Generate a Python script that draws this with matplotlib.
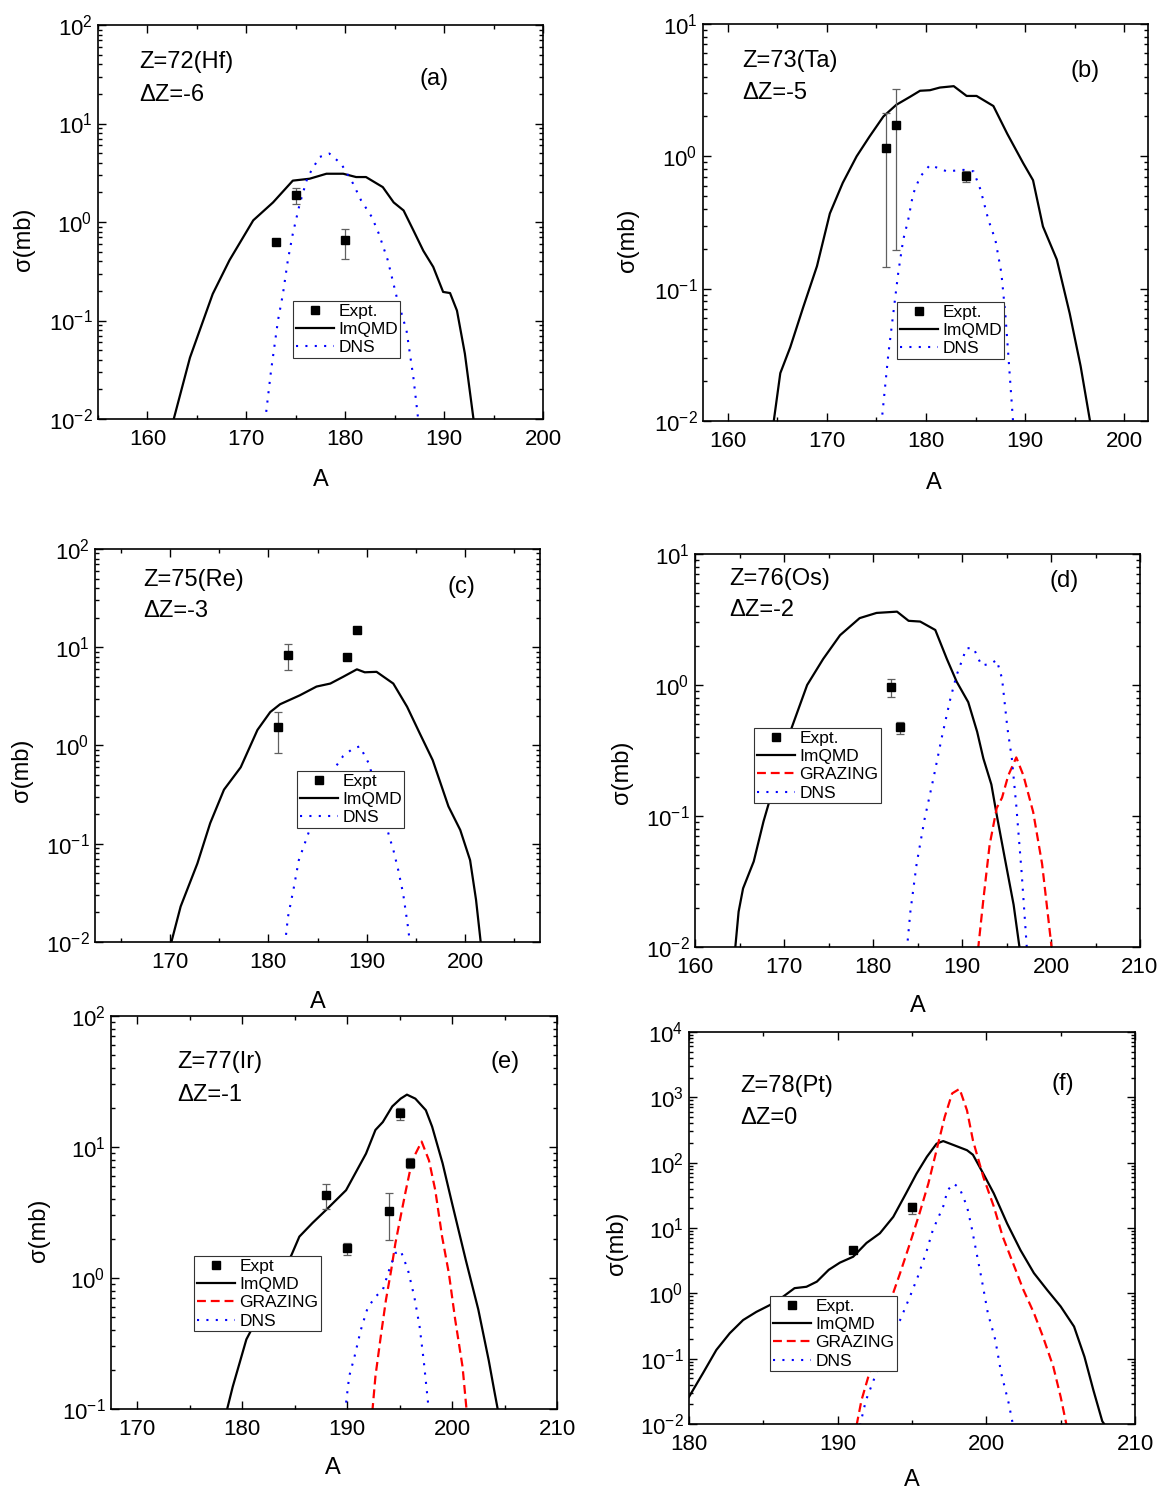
import numpy as np
import matplotlib
matplotlib.use("Agg")
import matplotlib.pyplot as plt
from matplotlib.ticker import LogLocator, MultipleLocator, NullFormatter, LogFormatterSciNotation

plt.rcParams["font.family"] = ["Liberation Sans", "DejaVu Sans"]
plt.rcParams["mathtext.fontset"] = "custom"
plt.rcParams["mathtext.rm"] = "Liberation Sans"
plt.rcParams["mathtext.it"] = "Liberation Sans:italic"
plt.rcParams["mathtext.bf"] = "Liberation Sans:bold"
plt.rcParams["axes.unicode_minus"] = False

W, H = 1163, 1495

# ---------------- data (A, sigma in mb) ----------------
# (a) Z=72 Hf
a_imqmd_x = [162.6, 164.3, 166.6, 168.3, 170.7, 172.7, 174.7, 176.4, 178.1, 179.8, 181.1, 182.1,
             183.8, 184.9, 185.9, 186.9, 187.9, 188.9, 189.9, 190.6, 191.3, 192.1, 193.0]
a_imqmd_y = [0.0095, 0.042, 0.186, 0.41, 1.04, 1.58, 2.63, 2.75, 3.09, 3.09, 2.86, 2.86,
             2.26, 1.58, 1.31, 0.82, 0.51, 0.35, 0.195, 0.19, 0.126, 0.046, 0.0095]
a_dns_x = [171.9, 172.5, 173.2, 173.7, 174.2, 174.7, 175.4, 176.2, 177.4, 178.4, 179.6, 180.8,
           181.6, 182.7, 183.4, 184.3, 185.2, 186.2, 186.9, 187.4]
a_dns_y = [0.0095, 0.031, 0.10, 0.186, 0.41, 0.76, 1.53, 2.86, 4.57, 4.95, 3.89, 2.45,
           1.66, 1.12, 0.76, 0.41, 0.174, 0.079, 0.026, 0.0095]
a_exp_x = [173, 175, 180]
a_exp_y = [0.625, 1.86, 0.65]
a_exp_lo = [0.625, 1.53, 0.42]
a_exp_hi = [0.625, 2.2, 0.855]

# (b) Z=73 Ta
b_imqmd_x = [164.6, 165.3, 166.3, 167.6, 169.0, 170.3, 171.6, 173.0, 174.3, 175.7, 177.0, 178.4,
             179.4, 180.4, 181.4, 182.8, 184.1, 185.1, 186.8, 188.2, 189.8, 190.8, 191.8, 193.2,
             194.5, 195.6, 196.6]
b_imqmd_y = [0.0095, 0.023, 0.036, 0.072, 0.148, 0.37, 0.63, 1.0, 1.41, 2.0, 2.45, 2.82,
             3.13, 3.16, 3.31, 3.39, 2.86, 2.86, 2.40, 1.48, 0.89, 0.66, 0.295, 0.166,
             0.065, 0.026, 0.0095]
b_dns_x = [175.5, 176.2, 176.7, 177.2, 177.7, 178.2, 178.7, 179.4, 180.4, 182.1, 183.8, 184.8,
           185.5, 186.3, 187.0, 187.6, 188.0, 188.3, 188.8]
b_dns_y = [0.0095, 0.032, 0.065, 0.132, 0.234, 0.33, 0.52, 0.70, 0.86, 0.77, 0.79, 0.77,
           0.56, 0.33, 0.234, 0.132, 0.065, 0.032, 0.0095]
b_exp_x = [176, 177, 184]
b_exp_y = [1.15, 1.73, 0.71]
b_exp_lo = [0.145, 0.195, 0.64]
b_exp_hi = [2.14, 3.2, 0.78]

# (c) Z=75 Re
c_imqmd_x = [170.1, 171.1, 172.8, 174.1, 175.5, 177.2, 178.9, 180.2, 181.2, 183.2, 184.9, 186.3,
             187.6, 189.0, 189.8, 191.0, 192.7, 194.1, 195.4, 196.7, 198.3, 199.5, 200.5, 201.1,
             201.6]
c_imqmd_y = [0.0095, 0.023, 0.063, 0.162, 0.355, 0.60, 1.44, 2.19, 2.63, 3.24, 3.98, 4.27,
             5.0, 5.96, 5.56, 5.62, 4.27, 2.48, 1.32, 0.71, 0.24, 0.138, 0.068, 0.027, 0.0095]
c_dns_x = [181.7, 182.0, 182.6, 183.1, 183.8, 184.3, 185.5, 186.6, 187.6, 188.6, 189.3, 190.2,
           191.3, 192.3, 192.7, 193.2, 193.7, 194.2, 194.4]
c_dns_y = [0.0095, 0.018, 0.036, 0.068, 0.107, 0.148, 0.30, 0.56, 0.78, 0.93, 0.98, 0.66,
           0.28, 0.117, 0.087, 0.054, 0.031, 0.014, 0.0095]
c_exp_x = [181, 182, 188, 189]
c_exp_y = [1.55, 8.3, 7.9, 15.0]
c_exp_lo = [0.84, 5.9, 7.9, 15.0]
c_exp_hi = [2.2, 10.7, 7.9, 15.0]

# (d) Z=76 Os
d_imqmd_x = [164.5, 164.9, 165.4, 166.6, 167.7, 169.2, 170.7, 172.6, 174.4, 176.3, 178.5, 180.4,
             182.7, 184.0, 185.3, 187.0, 188.3, 189.4, 190.7, 191.7, 192.4, 193.3, 193.9, 194.8,
             195.8, 196.5]
d_imqmd_y = [0.0095, 0.0186, 0.028, 0.045, 0.091, 0.204, 0.44, 1.0, 1.58, 2.40, 3.24, 3.55,
             3.63, 3.09, 3.05, 2.63, 1.58, 1.06, 0.74, 0.44, 0.275, 0.174, 0.102, 0.048,
             0.021, 0.0095]
d_graz_x = [191.8, 192.4, 193.1, 193.9, 194.5, 195.2, 196.1, 196.9, 198.0, 199.0, 200.1]
d_graz_y = [0.0095, 0.023, 0.060, 0.115, 0.138, 0.204, 0.28, 0.204, 0.107, 0.043, 0.0095]
d_dns_x = [183.8, 184.2, 184.9, 185.8, 186.8, 187.7, 188.7, 189.4, 190.5, 191.3, 192.2, 193.2,
           193.9, 194.5, 195.1, 195.6, 196.1, 196.7, 197.3]
d_dns_y = [0.0095, 0.0186, 0.043, 0.095, 0.195, 0.39, 0.79, 1.19, 1.91, 1.91, 1.41, 1.45,
           1.55, 1.12, 0.47, 0.275, 0.12, 0.037, 0.0095]
d_exp_x = [182, 183]
d_exp_y = [0.97, 0.48]
d_exp_lo = [0.81, 0.42]
d_exp_hi = [1.11, 0.52]

# (e) Z=77 Ir
e_imqmd_x = [178.5, 179.1, 179.75, 180.4, 182.5, 184.7, 185.45, 186.7, 188.0, 189.9, 191.8, 192.7,
             193.4, 194.3, 195.1, 195.7, 196.5, 197.5, 198.1, 199.1, 200.0, 201.3, 202.5, 203.5,
             204.0, 204.4]
e_imqmd_y = [0.095, 0.148, 0.224, 0.34, 0.71, 1.50, 2.07, 2.63, 3.31, 4.68, 8.9, 13.5,
             15.5, 20.4, 23.4, 25.1, 23.4, 19.1, 14.3, 7.5, 3.72, 1.38, 0.575, 0.234,
             0.141, 0.095]
e_graz_x = [192.4, 192.7, 193.2, 193.7, 194.2, 194.6, 195.1, 195.6, 196.2, 197.1, 197.8, 198.4,
            199.05, 199.7, 200.3, 201.0, 201.4]
e_graz_y = [0.095, 0.178, 0.355, 0.68, 1.15, 1.84, 2.95, 4.68, 7.9, 11.0, 7.9, 4.68,
            2.07, 1.08, 0.48, 0.21, 0.095]
e_dns_x = [189.8, 190.2, 190.7, 191.3, 191.95, 192.7, 193.4, 194.0, 194.6, 195.1, 195.8, 196.4,
           196.9, 197.3, 197.8]
e_dns_y = [0.095, 0.178, 0.25, 0.40, 0.59, 0.72, 0.81, 1.15, 1.55, 1.62, 1.15, 0.72,
           0.43, 0.234, 0.095]
e_exp_x = [188, 190, 194, 195, 196]
e_exp_y = [4.3, 1.69, 3.25, 18.1, 7.6]
e_exp_lo = [3.34, 1.5, 1.95, 16.1, 6.9]
e_exp_hi = [5.2, 1.84, 4.47, 20.0, 8.3]

# (f) Z=78 Pt
f_imqmd_x = [180.0, 180.94, 181.84, 182.74, 183.64, 184.53, 185.43, 186.33, 187.1, 187.9, 188.6,
             189.4, 190.15, 191.04, 191.94, 192.84, 193.74, 194.6, 195.3, 196.0, 196.65, 197.1,
             197.8, 198.7, 199.1, 199.8, 200.5, 201.4, 202.3, 203.2, 204.1, 205.0, 205.9, 206.6,
             207.2, 207.8, 208.0]
f_imqmd_y = [0.026, 0.060, 0.136, 0.245, 0.39, 0.52, 0.66, 0.89, 1.20, 1.26, 1.51,
             2.29, 2.95, 3.63, 5.9, 8.3, 14.8, 33.9, 67.6, 123, 195, 214,
             186, 155, 132, 67.6, 33.9, 11.7, 4.57, 2.04, 1.12, 0.63, 0.31, 0.107,
             0.033, 0.011, 0.0095]
f_graz_x = [191.27, 191.6, 192.2, 192.84, 193.5, 194.2, 194.86, 195.5, 196.1, 196.65, 197.2, 197.7,
            198.2, 198.7, 199.1, 199.8, 200.5, 201.1, 201.8, 202.5, 203.2, 203.8, 204.5, 205.0,
            205.4]
f_graz_y = [0.0095, 0.023, 0.068, 0.22, 0.71, 2.04, 5.8, 16.6, 47.9, 155, 501, 1148,
            1349, 631, 219, 60.3, 21.4, 7.4, 2.88, 1.12, 0.50, 0.22, 0.076, 0.026,
            0.0095]
f_dns_x = [191.5, 191.9, 192.6, 193.3, 194.2, 194.86, 195.4, 196.0, 196.4, 197.1, 197.4, 197.8,
           198.2, 198.7, 199.0, 199.35, 199.7, 200.1, 200.6, 201.0, 201.5, 201.8]
f_dns_y = [0.0095, 0.023, 0.060, 0.174, 0.39, 0.89, 1.82, 4.57, 9.3, 21.4, 38.0, 47.9,
           40.7, 21.4, 10.5, 4.07, 1.58, 0.50, 0.195, 0.060, 0.021, 0.0095]
f_exp_x = [191, 195]
f_exp_y = [4.6, 20.6]
f_exp_lo = [4.6, 16.3]
f_exp_hi = [4.6, 24.4]

# ---------------- panel layout (pixel boxes: left, top, right, bottom) ----------------
panels = [
    dict(box=(98, 25, 543, 419), xlim=(155, 200), ylim=(1e-2, 1e2),
         imqmd=(a_imqmd_x, a_imqmd_y), graz=None, dns=(a_dns_x, a_dns_y),
         expt=(a_exp_x, a_exp_y, a_exp_lo, a_exp_hi), elabel="Expt.",
         leg=(293, 301), title="Z=72(Hf)", dz="\u0394Z=-6", tag="(a)",
         tpos=(139, 62, 95), tagpos=(434, 79), ylab=(24, 239), xlab=(321, 480)),
    dict(box=(703, 24, 1148, 421), xlim=(157.5, 202.4), ylim=(1e-2, 1e1),
         imqmd=(b_imqmd_x, b_imqmd_y), graz=None, dns=(b_dns_x, b_dns_y),
         expt=(b_exp_x, b_exp_y, b_exp_lo, b_exp_hi), elabel="Expt.",
         leg=(897, 302), title="Z=73(Ta)", dz="\u0394Z=-5", tag="(b)",
         tpos=(742, 61, 93), tagpos=(1085, 71), ylab=(628, 240), xlab=(934, 483)),
    dict(box=(95, 549, 540, 942), xlim=(162.4, 207.6), ylim=(1e-2, 1e2),
         imqmd=(c_imqmd_x, c_imqmd_y), graz=None, dns=(c_dns_x, c_dns_y),
         expt=(c_exp_x, c_exp_y, c_exp_lo, c_exp_hi), elabel="Expt",
         leg=(297, 771), title="Z=75(Re)", dz="\u0394Z=-3", tag="(c)",
         tpos=(143, 580, 611), tagpos=(461, 587), ylab=(22, 770), xlab=(318, 1002)),
    dict(box=(695, 554, 1140, 947), xlim=(160, 210), ylim=(1e-2, 1e1),
         imqmd=(d_imqmd_x, d_imqmd_y), graz=(d_graz_x, d_graz_y), dns=(d_dns_x, d_dns_y),
         expt=(d_exp_x, d_exp_y, d_exp_lo, d_exp_hi), elabel="Expt.",
         leg=(754, 728), title="Z=76(Os)", dz="\u0394Z=-2", tag="(d)",
         tpos=(729, 579, 610), tagpos=(1064, 581), ylab=(622, 772), xlab=(918, 1006)),
    dict(box=(111, 1016, 557, 1409), xlim=(167.5, 210), ylim=(1e-1, 1e2),
         imqmd=(e_imqmd_x, e_imqmd_y), graz=(e_graz_x, e_graz_y), dns=(e_dns_x, e_dns_y),
         expt=(e_exp_x, e_exp_y, e_exp_lo, e_exp_hi), elabel="Expt",
         leg=(194, 1256), title="Z=77(Ir)", dz="\u0394Z=-1", tag="(e)",
         tpos=(177, 1062, 1095), tagpos=(505, 1062), ylab=(39, 1230), xlab=(333, 1468)),
    dict(box=(689, 1032, 1135, 1424), xlim=(180, 210), ylim=(1e-2, 1e4),
         imqmd=(f_imqmd_x, f_imqmd_y), graz=(f_graz_x, f_graz_y), dns=(f_dns_x, f_dns_y),
         expt=(f_exp_x, f_exp_y, f_exp_lo, f_exp_hi), elabel="Expt.",
         leg=(770, 1296), title="Z=78(Pt)", dz="\u0394Z=0", tag="(f)",
         tpos=(740, 1086, 1118), tagpos=(1063, 1084), ylab=(617, 1243), xlab=(912, 1480)),
]

fig = plt.figure(figsize=(W / 100, H / 100), dpi=100)


def fx(px):
    return px / W


def fy(py):
    return 1 - py / H


for p in panels:
    L, T, R, B = p["box"]
    ax = fig.add_axes([fx(L), fy(B), (R - L) / W, (B - T) / H])
    ax.set_yscale("log")

    ex, ey, elo, ehi = p["expt"]
    ey = np.array(ey)
    yerr = [ey - np.array(elo), np.array(ehi) - ey]
    ax.errorbar(ex, ey, yerr=yerr, fmt="none", ecolor="#606060", elinewidth=0.9,
                capsize=3, capthick=0.9, zorder=3)
    h_exp, = ax.plot(ex, ey, ls="none", marker="s", ms=5.5, color="black", zorder=4,
                     label=p["elabel"])
    handles = [h_exp]
    h_imq, = ax.plot(*p["imqmd"], color="black", lw=1.6, label="ImQMD", zorder=2)
    handles.append(h_imq)
    if p["graz"] is not None:
        h_gr, = ax.plot(*p["graz"], color="#ff0000", lw=1.6, ls=(0, (4, 2.2)),
                        label="GRAZING", zorder=2)
        handles.append(h_gr)
    h_dns, = ax.plot(*p["dns"], color="#0000ff", lw=1.5, ls=(0, (1, 3.5)),
                     label="DNS", zorder=2)
    handles.append(h_dns)

    ax.set_xlim(*p["xlim"])
    ax.set_ylim(*p["ylim"])
    ax.xaxis.set_major_locator(MultipleLocator(10))
    ax.xaxis.set_minor_locator(MultipleLocator(5))
    ax.yaxis.set_major_locator(LogLocator(base=10, numticks=20))
    ax.yaxis.set_minor_locator(LogLocator(base=10, subs=np.arange(2, 10), numticks=20))
    ax.yaxis.set_major_formatter(LogFormatterSciNotation())
    ax.yaxis.set_minor_formatter(NullFormatter())
    ax.tick_params(which="both", direction="in", top=True, right=True, labelsize=16,
                   width=1.0)
    ax.tick_params(axis="x", pad=7.5)
    ax.tick_params(axis="y", pad=4)
    ax.tick_params(which="major", length=6)
    ax.tick_params(which="minor", length=3)
    for s in ax.spines.values():
        s.set_linewidth(1.2)

    ax.text((p["tpos"][0] - L) / (R - L), (B - p["tpos"][1]) / (B - T), p["title"],
            transform=ax.transAxes, fontsize=17, ha="left", va="center")
    ax.text((p["tpos"][0] - L) / (R - L), (B - p["tpos"][2]) / (B - T), p["dz"],
            transform=ax.transAxes, fontsize=17, ha="left", va="center")
    ax.text((p["tagpos"][0] - L) / (R - L), (B - p["tagpos"][1]) / (B - T), p["tag"],
            transform=ax.transAxes, fontsize=17, ha="center", va="center")

    leg = ax.legend(handles=handles, loc="upper left",
                    bbox_to_anchor=(fx(p["leg"][0]), fy(p["leg"][1])),
                    bbox_transform=fig.transFigure, borderaxespad=0, fontsize=12.5,
                    frameon=True, fancybox=False, framealpha=1, edgecolor="#333333",
                    handlelength=2.2, handletextpad=0.25, labelspacing=0.18,
                    borderpad=0.15, numpoints=1)
    leg.get_frame().set_linewidth(0.8)
    leg.set_zorder(5)

    fig.text(fx(p["ylab"][0]), fy(p["ylab"][1]), "\u03c3(mb)", rotation=90,
             fontsize=17, ha="center", va="center")
    fig.text(fx(p["xlab"][0]), fy(p["xlab"][1]), "A", fontsize=17,
             ha="center", va="center")

fig.savefig("out.png", dpi=100)
